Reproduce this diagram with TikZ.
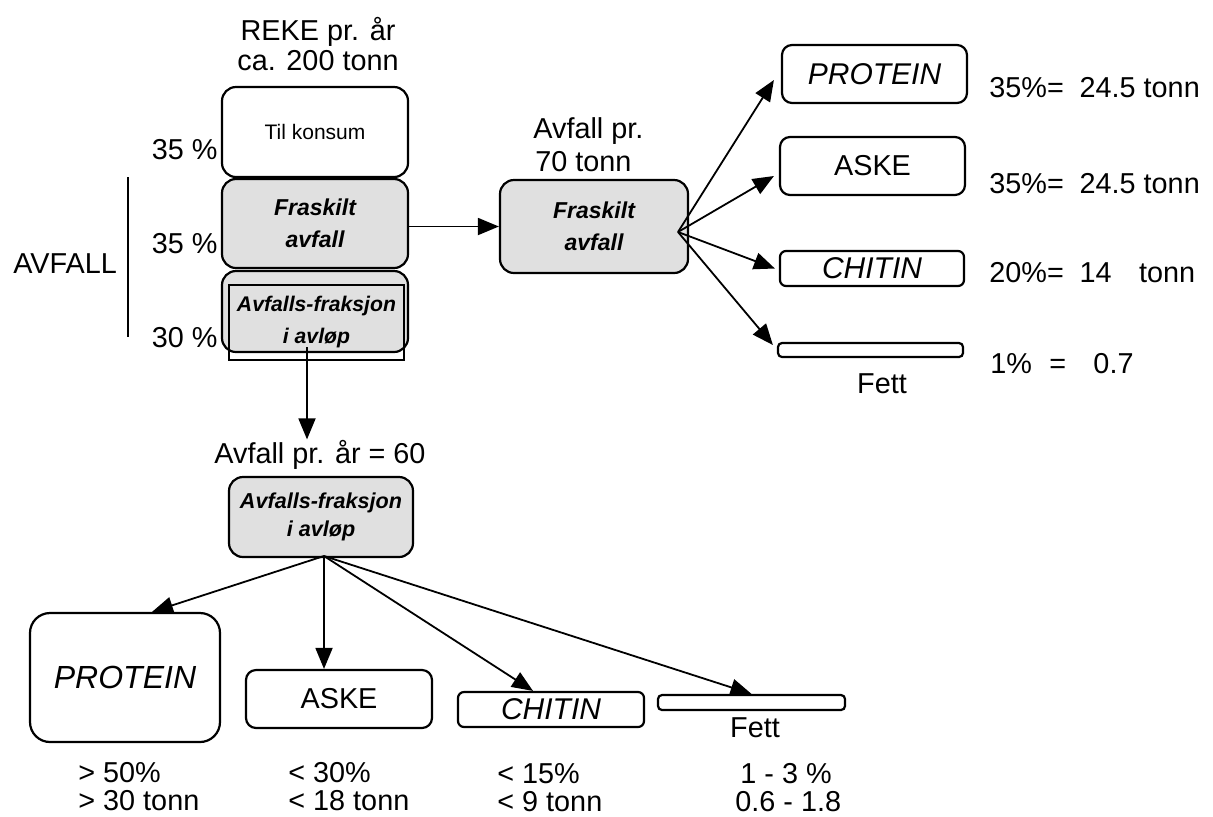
\documentclass[tikz,border=0pt]{standalone}
\usepackage{fontspec}
\setmainfont{Liberation Sans}
\usetikzlibrary{arrows.meta}
\begin{document}
\begin{tikzpicture}[x=0.5pt,y=-0.5pt,
  box/.style={draw, line width=1.1pt, rounded corners=7pt, inner sep=0pt, align=center},
  shaded/.style={box, fill=black!12},
  big/.style={font=\fontsize{14.4}{16}\selectfont, inner sep=0pt},
  bi/.style={font=\fontsize{11.5}{16}\selectfont\bfseries\itshape},
  bis/.style={font=\fontsize{10.6}{16}\selectfont\bfseries\itshape},
  itl/.style={font=\fontsize{15}{17}\selectfont\itshape},
  arr/.style={line width=0.9pt, -{Triangle[length=10.5pt,width=8.5pt]}},
]
\useasboundingbox (0,0) rectangle (1213,816);

% top stack
\node[big, anchor=base] (reke1) at (318,40) {REKE pr. år};
\node[big, anchor=base] (reke2) at (318,70) {ca. 200 tonn};
\node[box, minimum width=93pt, minimum height=45pt, font=\fontsize{10.5}{12}\selectfont] (A) at (315,132) {Til konsum};
\node[shaded, minimum width=93pt, minimum height=44.5pt, bi] (B) at (315,223.5) {Fraskilt\\avfall};
\node[shaded, minimum width=93pt, minimum height=40.5pt] (C) at (315,311.5) {};
\node[draw, line width=1.1pt, minimum width=87.5pt, minimum height=37.5pt, inner sep=0pt, align=center, bis] (Ci) at (316.5,322.5) {Avfalls-fraksjon\\i avløp};

\node[big, anchor=base east] (p1) at (218,159) {35 \%};
\node[big, anchor=base east] (p2) at (218,253) {35 \%};
\node[big, anchor=base east] (p3) at (218,347) {30 \%};
\node[big, anchor=base west] (avf) at (13,273) {AVFALL};
\coordinate (v1) at (128,177);
\coordinate (v2) at (128,337);
\draw[line width=1.1pt] (v1) -- (v2);

% separated waste
\node[big, anchor=base west] (e1) at (533,138) {Avfall pr.};
\node[big, anchor=base west] (e2) at (535,171) {70 tonn};
\node[shaded, minimum width=94pt, minimum height=46.5pt, bi] (E) at (594,226.5) {Fraskilt\\avfall};

\node[box, rounded corners=5pt, minimum width=92.5pt, minimum height=29pt, itl] (rP) at (874.5,74) {PROTEIN};
\node[box, rounded corners=5pt, minimum width=92.5pt, minimum height=29pt, big] (rA) at (872.5,166) {ASKE};
\node[box, rounded corners=3pt, minimum width=92pt, minimum height=17.5pt, itl] (rC) at (872,268.5) {CHITIN};
\node[box, rounded corners=2pt, minimum width=92.5pt, minimum height=7pt] (rF) at (870.5,350) {};
\node[big, anchor=base] (rFl) at (882,393) {Fett};

\node[big, anchor=base west] (t1) at (989,97) {35\%=\hspace{0.55em}24.5 tonn};
\node[big, anchor=base west] (t2) at (989,193) {35\%=\hspace{0.55em}24.5 tonn};
\node[big, anchor=base west] (t3) at (989,282) {20\%=\hspace{0.55em}14\hspace{0.95em}tonn};
\node[big, anchor=base west] (t4) at (990,373) {1\%\hspace{0.6em}=\hspace{0.95em}0.7};

% waste in drain
\node[big, anchor=base] (lD) at (320,463) {Avfall pr. år = 60};
\node[shaded, minimum width=92pt, minimum height=40pt, font=\fontsize{10.8}{14}\selectfont\bfseries\itshape] (D) at (321,517) {Avfalls-fraksjon\\i avløp};

\node[box, rounded corners=10pt, minimum width=95pt, minimum height=64.5pt, font=\fontsize{16}{18}\selectfont\itshape] (bP) at (125,677.5) {PROTEIN};
\node[box, rounded corners=5pt, minimum width=93pt, minimum height=29pt, big] (bA) at (339,699) {ASKE};
\node[box, rounded corners=3pt, minimum width=93pt, minimum height=17.5pt, itl] (bC) at (551,709.5) {CHITIN};
\node[box, rounded corners=2pt, minimum width=93.5pt, minimum height=7.5pt] (bF) at (751.5,702.5) {};
\node[big, anchor=base] (bFl) at (755,737) {Fett};

\node[big, anchor=base west] (b1a) at (78,782) {> 50\%};
\node[big, anchor=base west] (b1b) at (78,810) {> 30 tonn};
\node[big, anchor=base west] (b2a) at (288,782) {< 30\%};
\node[big, anchor=base west] (b2b) at (288,810) {< 18 tonn};
\node[big, anchor=base west] (b3a) at (497,783) {< 15\%};
\node[big, anchor=base west] (b3b) at (497,811) {< 9 tonn};
\node[big, anchor=base west] (b4a) at (740,783) {1 - 3 \%};
\node[big, anchor=base west] (b4b) at (735,811) {0.6 - 1.8};

% connectors
\draw[arr] (B.east |- E.west) -- (E.west);
\coordinate (f1) at (678,232);
\draw[arr] (f1) -- ([xshift=-3.5pt,yshift=-3pt]rP.west);
\draw[arr] (f1) -- ([xshift=-2.5pt,yshift=-5pt]rA.west);
\draw[arr] (f1) -- ([xshift=-2pt]rC.west);
\draw[arr] (f1) -- ([xshift=-2pt,yshift=2.5pt]rF.west);

\coordinate (c1) at (307,347);
\draw[arr] (c1) -- (c1 |- lD.north);

\coordinate (f2) at (324,556);
\draw[arr] (f2) -- ([xshift=13.5pt]bP.north);
\draw[arr] (f2) -- (f2 |- bA.north);
\draw[arr] (f2) -- ([xshift=-9pt]bC.north);
\draw[arr] (f2) -- (bF.north);
\end{tikzpicture}
\end{document}
